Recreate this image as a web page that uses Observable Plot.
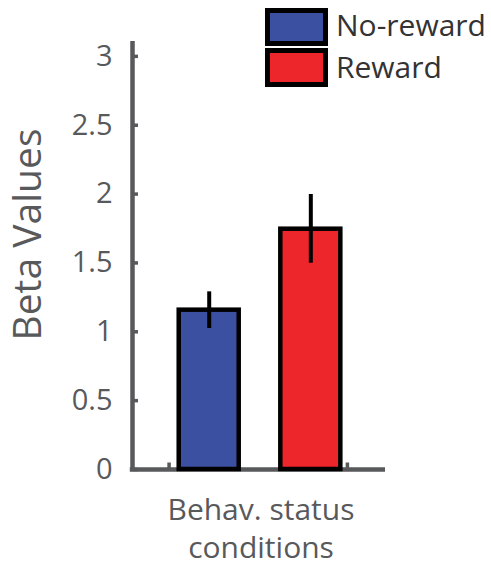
<!DOCTYPE html>
<html>
<head>
<meta charset="utf-8">
<script src="https://cdn.jsdelivr.net/npm/d3@7"></script>
<script src="https://cdn.jsdelivr.net/npm/@observablehq/plot@0.6"></script>
<style>
  body { margin: 0; background: #fff; }
  #wrap { position: relative; width: 491px; height: 568px; font-family: "Open Sans", sans-serif; }
  #wrap svg { overflow: visible; }
  .sw { position: absolute; left: 265px; width: 63px; box-sizing: border-box; border: 5px solid #000; }
  .lt { position: absolute; left: 336px; font-size: 30px; line-height: 30px; color: #333; white-space: nowrap; }
</style>
</head>
<body>
<div id="wrap"></div>
<script>
// Data
const conditions = ["No-reward", "Reward"];
const positions = [1, 2];
const betaValues = [1.157, 1.745];
const errLow = [1.024, 1.498];
const errHigh = [1.29, 1.997];
const barColors = ["#3b50a0", "#ed262b"];
const yTicks = [0, 0.5, 1, 1.5, 2, 2.5, 3];
const xTickPositions = [0.605, 2.36];
const xDomain = [0.245, 2.735];
const yDomain = [0, 3.108];
const yLabel = "Beta Values";
const xLabel = "Behav. status\nconditions";

const data = conditions.map((c, i) => ({
  condition: c, pos: positions[i], value: betaValues[i],
  lo: errLow[i], hi: errHigh[i], color: barColors[i]
}));

const axisColor = "#58595b";

const chart = Plot.plot({
  width: 491,
  height: 568,
  marginLeft: 132,
  marginRight: 106,
  marginTop: 41,
  marginBottom: 99,
  style: { fontFamily: "Open Sans, sans-serif", fontSize: "29px", color: axisColor, background: "#fff" },
  x: { type: "linear", domain: xDomain, axis: null },
  y: { domain: yDomain, axis: null },
  marks: [
    // y axis line
    Plot.ruleX([xDomain[0]], { y1: 0, y2: yDomain[1], stroke: axisColor, strokeWidth: 4.5 }),
    // x axis line
    Plot.ruleY([0], { stroke: axisColor, strokeWidth: 4.5, insetLeft: -2.2 }),
    // y ticks (inward)
    Plot.ruleY(yTicks, { y: d => d, x1: xDomain[0], x2: xDomain[0], insetRight: -6, stroke: axisColor, strokeWidth: 3.5 }),
    // x ticks (inward)
    Plot.ruleX(xTickPositions, { x: d => d, y1: 0, y2: 0, insetBottom: 6.5, insetTop: 0, stroke: axisColor, strokeWidth: 3.5 }),
    // y tick labels
    Plot.axisY(yTicks, { anchor: "left", tickSize: 0, tickPadding: 20, tickFormat: d => String(d), fill: axisColor, label: null }),
    // bars
    Plot.rectY(data, { x1: "pos", x2: "pos", y: "value", insetLeft: -30, insetRight: -30, fill: "color", stroke: "#000", strokeWidth: 4.5 }),
    // error bars
    Plot.ruleX(data, { x: "pos", y1: "lo", y2: "hi", stroke: "#000", strokeWidth: 4 }),
    // y label
    Plot.text([yLabel], { frameAnchor: "left", rotate: -90, dx: -104, dy: -21, fontSize: 39, fill: axisColor, textAnchor: "middle", lineAnchor: "middle" }),
    // x label
    Plot.text([xLabel], { frameAnchor: "bottom", lineAnchor: "top", dy: 23, dx: 2, fontSize: 30, lineHeight: 1.27, fill: axisColor, textAnchor: "middle" })
  ]
});

const wrap = document.getElementById("wrap");
wrap.appendChild(chart);

// Legend
const legendTops = [8, 48];
const legendHeights = [38, 39];
const labelTops = [10, 52.4];
conditions.forEach((c, i) => {
  const sw = document.createElement("div");
  sw.className = "sw";
  sw.style.top = legendTops[i] + "px";
  sw.style.height = legendHeights[i] + "px";
  sw.style.background = barColors[i];
  wrap.appendChild(sw);
  const lt = document.createElement("div");
  lt.className = "lt";
  lt.style.top = labelTops[i] + "px";
  lt.textContent = c;
  wrap.appendChild(lt);
});
</script>
</body>
</html>
